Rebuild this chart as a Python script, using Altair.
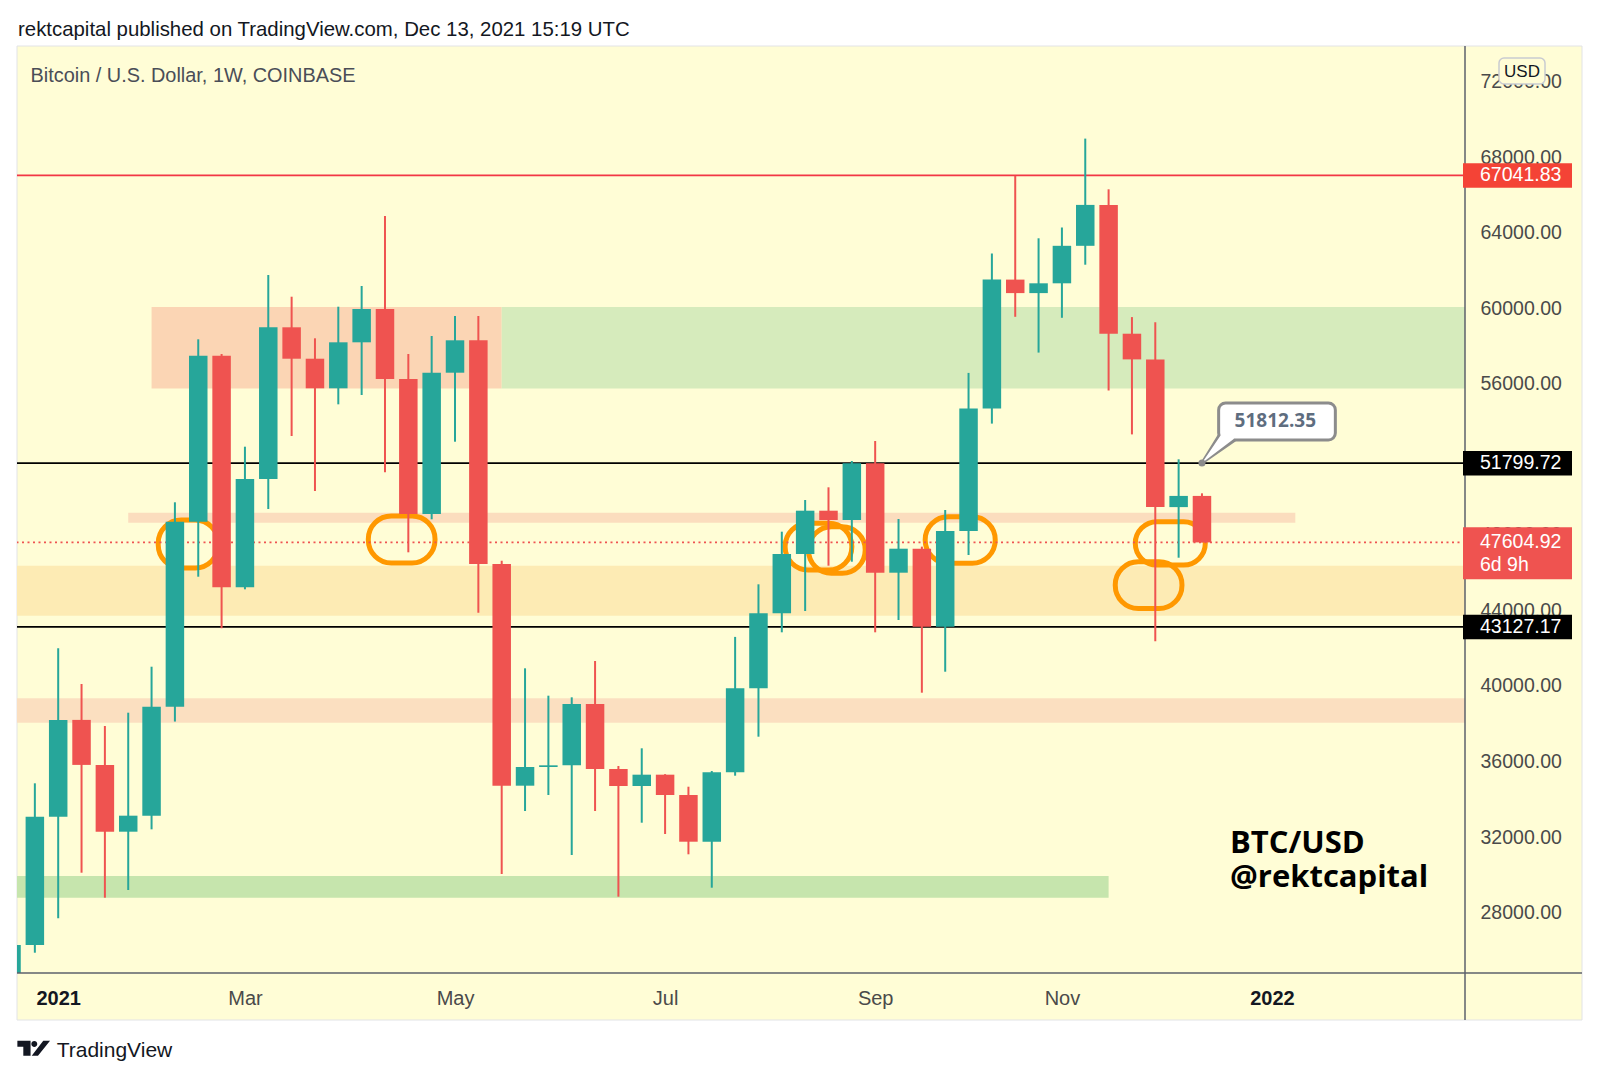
import altair as alt
import pandas as pd

# ---------------- data ----------------
week = ["2020-12-21", "2020-12-28", "2021-01-04", "2021-01-11", "2021-01-18", "2021-01-25",
        "2021-02-01", "2021-02-08", "2021-02-15", "2021-02-22", "2021-03-01", "2021-03-08",
        "2021-03-15", "2021-03-22", "2021-03-29", "2021-04-05", "2021-04-12", "2021-04-19",
        "2021-04-26", "2021-05-03", "2021-05-10", "2021-05-17", "2021-05-24", "2021-05-31",
        "2021-06-07", "2021-06-14", "2021-06-21", "2021-06-28", "2021-07-05", "2021-07-12",
        "2021-07-19", "2021-07-26", "2021-08-02", "2021-08-09", "2021-08-16", "2021-08-23",
        "2021-08-30", "2021-09-06", "2021-09-13", "2021-09-20", "2021-09-27", "2021-10-04",
        "2021-10-11", "2021-10-18", "2021-10-25", "2021-11-01", "2021-11-08", "2021-11-15",
        "2021-11-22", "2021-11-29", "2021-12-06", "2021-12-13"]
opens = [23480, 26280, 33076, 38204, 35820, 32282, 33130, 38903, 48701, 57494, 45227, 50963,
         58998, 57334, 55766, 58203, 59967, 56260, 49109, 56593, 58309, 46461, 34719, 35708,
         35798, 39049, 35602, 34702, 35302, 34225, 31752, 35428, 39877, 43849, 46990, 49284,
         48791, 51794, 46000, 47271, 43140, 48209, 54700, 61524, 60809, 61328, 63314, 65481,
         58658, 57298, 49474, 50067]
highs = [28400, 34845, 41996, 40105, 37880, 38585, 41021, 49729, 58362, 57583, 52674, 61767,
         60618, 58415, 60089, 61185, 64893, 57583, 58537, 59596, 59596, 46636, 40936, 39486,
         39400, 41323, 35761, 36699, 35330, 34665, 35495, 42600, 45385, 48172, 49850, 50523,
         51916, 52975, 48844, 47380, 49321, 56582, 62907, 67022, 63712, 64284, 68992, 66307,
         59538, 59268, 52006, 50205]
lows = [22350, 25873, 27695, 30110, 28787, 29194, 32407, 38116, 45788, 43055, 45120, 49374,
        53240, 50327, 54918, 55412, 51318, 47080, 48828, 52938, 43881, 30041, 33378, 34225,
        31047, 33378, 28840, 32758, 32160, 31085, 29316, 35248, 37314, 42843, 43971, 46371,
        46583, 42843, 43495, 39644, 40756, 46937, 53897, 59554, 57658, 59501, 62313, 55650,
        53325, 42366, 46794, 47604.92]
closes = [26280, 33076, 38204, 35820, 32282, 33130, 38903, 48701, 57494, 45227, 50963, 58998,
          57334, 55766, 58203, 59967, 56260, 49109, 56593, 58309, 46461, 34719, 35708, 35798,
          39049, 35602, 34702, 35302, 34225, 31752, 35428, 39877, 43849, 46990, 49284, 48791,
          51794, 46000, 47271, 43140, 48209, 54700, 61524, 60809, 61328, 63314, 65481, 58658,
          57298, 49474, 50067, 47604.92]

zone_kind = ["supply", "demand", "retest", "support", "mid", "base"]
zone_start = ["2021-02-01", "2021-05-17", "2021-01-25", "2020-12-01", "2020-12-01", "2020-12-01"]
zone_end = ["2021-05-17", "2022-04-01", "2022-01-10", "2022-04-01", "2022-04-01", "2021-11-15"]
zone_low = [55756, 55756, 48648, 43722, 38055, 28786]
zone_high = [60073, 60073, 49178, 46371, 39347, 29935]

loop_start = ["2021-02-03", "2021-04-07", "2021-08-10", "2021-08-17", "2021-09-21", "2021-11-23", "2021-11-17"]
loop_end = ["2021-02-21", "2021-04-27", "2021-08-30", "2021-09-03", "2021-10-12", "2021-12-14", "2021-12-07"]
loop_low = [46249, 46514, 46143, 45968, 46498, 46408, 44100]
loop_high = [48791, 49003, 48616, 48436, 48966, 48701, 46580]

level_kind = ["ath", "res", "sup"]
level_price = [67041.83, 51799.72, 43127.17]
level_label = ["67041.83", "51799.72", "43127.17"]

last_price = 47604.92
last_label = "47604.92"
countdown = "6d 9h"

callout_date = "2021-12-13"
callout_price = 51812.35
callout_label = "51812.35"
callout_box_start = "2021-12-18"
callout_box_end = "2022-01-22"
callout_box_low = 53028
callout_box_high = 54988
callout_text_date = "2022-01-04"
callout_text_price = 54040
callout_base_date = "2021-12-21"
callout_base_price = 53300

price_ticks = [28000, 32000, 36000, 40000, 44000, 48000, 52000, 56000, 60000, 64000, 68000, 72000]
time_ticks = [(2021, 1, 4), (2021, 3, 1), (2021, 5, 3), (2021, 7, 5), (2021, 9, 6), (2021, 11, 1), (2022, 1, 3)]

# ---------------- styling ----------------
W, H = 1448, 927
BG = "#FFFDD6"
UP, DOWN = "#26A69A", "#EF5350"
AXIS_FONT = "Liberation Sans"
one = pd.DataFrame({"k": [0]})

xscale = alt.Scale(type="utc", padding=0, domain=[
    alt.DateTime(year=2020, month=12, date=22, hours=15, minutes=29, utc=True),
    alt.DateTime(year=2022, month=3, date=1, hours=21, minutes=7, utc=True)])
yscale = alt.Scale(domain=[24798, 73897], nice=False, zero=False, padding=0)

year_test = "utcmonth(datum.value) == 0"
xaxis = alt.Axis(
    values=[alt.DateTime(year=y, month=m, date=d, utc=True) for (y, m, d) in time_ticks],
    labelExpr="utcmonth(datum.value) == 0 ? utcFormat(datum.value, '%Y') : utcFormat(datum.value, '%b')",
    labelFont=AXIS_FONT, labelFontSize=20,
    labelColor={"condition": {"test": year_test, "value": "#131722"}, "value": "#4A4A4A"},
    labelFontWeight={"condition": {"test": year_test, "value": "bold"}, "value": "normal"},
    ticks=False, tickSize=0, domain=False, grid=False, labelPadding=25,
    labelBaseline="middle", labelOverlap=False, labelFlush=False, title=None)
yaxis = alt.Axis(
    orient="right", values=price_ticks, format=".2f",
    labelFont=AXIS_FONT, labelFontSize=19.5, labelColor="#4A4A4A",
    ticks=False, tickSize=0, domain=False, grid=False, labelPadding=15,
    labelAlign="left", labelBaseline="middle", labelOverlap=False, labelFlush=False, title=None)


def X(f):
    return alt.X(f, type="temporal", scale=xscale, axis=xaxis)


def Y(f):
    return alt.Y(f, type="quantitative", scale=yscale, axis=yaxis)


candles = pd.DataFrame({"date": week, "open": opens, "high": highs, "low": lows, "close": closes})
candles["dir"] = ["up" if c >= o else "down" for o, c in zip(opens, closes)]
dir_color = alt.Color("dir:N", scale=alt.Scale(domain=["up", "down"], range=[UP, DOWN]), legend=None)

zones = pd.DataFrame({"kind": zone_kind, "start": zone_start, "end": zone_end, "lo": zone_low, "hi": zone_high})
loops = pd.DataFrame({"start": loop_start, "end": loop_end, "lo": loop_low, "hi": loop_high})
levels = pd.DataFrame({"kind": level_kind, "price": level_price, "label": level_label})
last = pd.DataFrame({"price": [last_price], "label": [last_label], "cd": [countdown]})
cbox = pd.DataFrame({"start": [callout_box_start], "end": [callout_box_end],
                     "lo": [callout_box_low], "hi": [callout_box_high],
                     "tdate": [callout_text_date], "tprice": [callout_text_price],
                     "label": [callout_label]})
anchor = pd.DataFrame({"date": [callout_date], "price": [callout_price]})
ptr = pd.DataFrame({"date": [callout_date, callout_base_date],
                    "price": [callout_price, callout_base_price]})
ptr["w_out"] = [3, 19]
ptr["w_in"] = [0.1, 13]

layers = []


def pixel_rect(x0, x1, y0, y1, **kw):
    return alt.Chart(one).mark_rect(**kw).encode(
        x=alt.value(x0), x2=alt.value(x1), y=alt.value(y0), y2=alt.value(y1))


# white page around the yellow panel (the chart background itself is the panel colour)
layers.append(pixel_rect(-9, 1574, -38, 0, fill="#FFFFFF", strokeWidth=0))
layers.append(pixel_rect(-9, 1574, 974, 1027, fill="#FFFFFF", strokeWidth=0))
layers.append(pixel_rect(-9, 0, 0, 974, fill="#FFFFFF", strokeWidth=0))
layers.append(pixel_rect(1565, 1574, 0, 974, fill="#FFFFFF", strokeWidth=0))
layers.append(pixel_rect(0, 1565, 0, 974, fillOpacity=0, stroke="#E2E3E6", strokeWidth=1))

# zones
zone_colors = ["#FBD5B4", "#D6EBBC", "#FBDDBE", "#FDEBB4", "#FBDFC0", "#C6E5AD"]
layers.append(alt.Chart(zones).mark_rect(clip=True).encode(
    x=X("start"), x2=alt.X2("end"), y=Y("lo"), y2=alt.Y2("hi"),
    color=alt.Color("kind:N", scale=alt.Scale(domain=zone_kind, range=zone_colors), legend=None)))

# hand drawn loops
layers.append(alt.Chart(loops).mark_rect(fillOpacity=0, stroke="#FF9800", strokeWidth=5,
                                         cornerRadius=23, clip=True).encode(
    x=X("start"), x2=alt.X2("end"), y=Y("lo"), y2=alt.Y2("hi")))

# horizontal levels
layers.append(alt.Chart(levels).mark_rule(strokeWidth=1.8).encode(
    y=Y("price"),
    color=alt.Color("kind:N", scale=alt.Scale(domain=level_kind, range=["#F23645", "#000000", "#000000"]),
                    legend=None)))
layers.append(alt.Chart(last).mark_rule(color=DOWN, strokeWidth=1.6, strokeDash=[2, 3.5]).encode(y=Y("price")))

# candles
layers.append(alt.Chart(candles).mark_rule(strokeWidth=2, clip=True).encode(
    x=X("date"), y=Y("low"), y2=alt.Y2("high"), color=dir_color))
layers.append(alt.Chart(candles).mark_bar(size=18.5, clip=True).encode(
    x=X("date"), y=Y("open"), y2=alt.Y2("close"), color=dir_color))

# callout
layers.append(alt.Chart(ptr).mark_trail(color="#8C8C8C").encode(
    x=X("date"), y=Y("price"), size=alt.Size("w_out:Q", scale=None, legend=None)))
layers.append(alt.Chart(cbox).mark_rect(fill="#FFFFFF", stroke="#8C8C8C", strokeWidth=3, cornerRadius=7).encode(
    x=X("start"), x2=alt.X2("end"), y=Y("lo"), y2=alt.Y2("hi")))
layers.append(alt.Chart(ptr).mark_trail(color="#FFFFFF").encode(
    x=X("date"), y=Y("price"), size=alt.Size("w_in:Q", scale=None, legend=None)))
layers.append(alt.Chart(cbox).mark_text(font="Open Sans", fontWeight="bold", fontSize=19,
                                        color="#5E6D7F", baseline="middle").encode(
    x=X("tdate"), y=Y("tprice"), text="label:N"))
layers.append(alt.Chart(anchor).mark_point(filled=True, color="#8C8C8C", size=50, opacity=1).encode(
    x=X("date"), y=Y("price")))

# axis separators
layers.append(alt.Chart(one).mark_rule(color="#5D606B", strokeWidth=1.5).encode(
    x=alt.value(1448), y=alt.value(0), y2=alt.value(974)))
layers.append(alt.Chart(one).mark_rule(color="#5D606B", strokeWidth=1.5).encode(
    x=alt.value(0), x2=alt.value(1565), y=alt.value(927)))

# price badges on the axis
layers.append(alt.Chart(levels).mark_rect(yOffset=-12.3, y2Offset=12.3).encode(
    x=alt.value(1446), x2=alt.value(1555), y=Y("price"), y2=alt.Y2("price"),
    color=alt.Color("kind:N", scale=alt.Scale(domain=level_kind, range=["#F44336", "#000000", "#000000"]),
                    legend=None)))
layers.append(alt.Chart(levels).mark_text(align="left", baseline="middle", color="#FFFFFF",
                                          font=AXIS_FONT, fontSize=19.5).encode(
    x=alt.value(1463), y=Y("price"), text="label:N"))
layers.append(alt.Chart(last).mark_rect(color=DOWN, yOffset=-15.2, y2Offset=36.8).encode(
    x=alt.value(1446), x2=alt.value(1555), y=Y("price"), y2=alt.Y2("price")))
layers.append(alt.Chart(last).mark_text(align="left", baseline="middle", color="#FFFFFF",
                                        font=AXIS_FONT, fontSize=19.5).encode(
    x=alt.value(1463), y=Y("price"), text="label:N"))
layers.append(alt.Chart(last).mark_text(align="left", baseline="middle", color="#FFFFFF",
                                        font=AXIS_FONT, fontSize=19.5, dy=23).encode(
    x=alt.value(1463), y=Y("price"), text="cd:N"))

# USD badge
layers.append(pixel_rect(1482, 1528, 12, 38, fill=BG, stroke="#C9CBD1", strokeWidth=1.5, cornerRadius=5))
layers.append(alt.Chart(one).mark_text(text="USD", font=AXIS_FONT, fontSize=17, color="#131722",
                                       align="center", baseline="middle").encode(
    x=alt.value(1505), y=alt.value(25.5)))

# texts
layers.append(alt.Chart(one).mark_text(
    text="rektcapital published on TradingView.com, Dec 13, 2021 15:19 UTC",
    font=AXIS_FONT, fontSize=20.4, color="#131722", align="left", baseline="alphabetic").encode(
    x=alt.value(1), y=alt.value(-10.3)))
layers.append(alt.Chart(one).mark_text(
    text="Bitcoin / U.S. Dollar, 1W, COINBASE",
    font=AXIS_FONT, fontSize=19.9, color="#4A4D57", align="left", baseline="alphabetic").encode(
    x=alt.value(13.5), y=alt.value(35.7)))
layers.append(alt.Chart(one).mark_text(
    text="BTC/USD", font="Open Sans", fontWeight="bold", fontSize=31, color="#000000",
    align="left", baseline="alphabetic").encode(x=alt.value(1213), y=alt.value(807.3)))
layers.append(alt.Chart(one).mark_text(
    text="@rektcapital", font="Open Sans", fontWeight="bold", fontSize=31, color="#000000",
    align="left", baseline="alphabetic").encode(x=alt.value(1213), y=alt.value(841)))

# footer
logo = ("M -0.99 -0.455 H -0.19 V 0.455 H -0.63 V -0.09 H -0.99 Z "
        "M -0.144 -0.255 A 0.18 0.18 0 1 0 0.216 -0.255 A 0.18 0.18 0 1 0 -0.144 -0.255 Z "
        "M -0.12 0.455 L 0.26 0.455 L 0.99 -0.455 L 0.58 -0.455 Z")
layers.append(alt.Chart(one).mark_point(shape=logo, filled=True, color="#131722", size=1089,
                                        opacity=1, strokeWidth=0).encode(
    x=alt.value(16.7), y=alt.value(1002.2)))
layers.append(alt.Chart(one).mark_text(
    text="TradingView", font=AXIS_FONT, fontSize=21, color="#131722",
    align="left", baseline="alphabetic").encode(x=alt.value(39.7), y=alt.value(1010.7)))

chart = alt.layer(*layers).resolve_scale(color="independent").properties(
    width=W, height=H,
    padding={"left": 9, "top": 38, "right": 126, "bottom": 100},
    autosize=alt.AutoSizeParams(type="none"),
    background=BG,
).configure_view(strokeWidth=0)

chart.save("out.html", embed_options={"renderer": "svg", "actions": False})
